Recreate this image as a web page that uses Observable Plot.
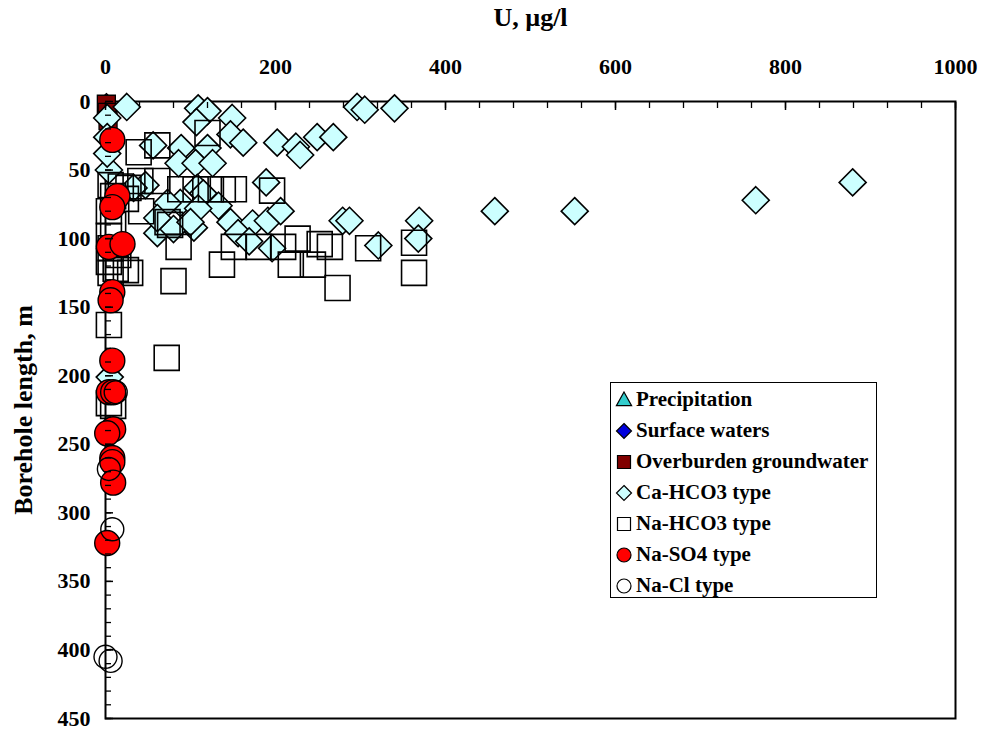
<!DOCTYPE html>
<html><head><meta charset="utf-8">
<script src="https://cdn.jsdelivr.net/npm/d3@7"></script>
<script src="https://cdn.jsdelivr.net/npm/@observablehq/plot@0.6"></script>
<style>
body{margin:0;background:#fff;}
#wrap{position:relative;width:983px;height:729px;overflow:hidden;}
#legend{position:absolute;left:610px;top:382px;width:267px;height:216px;border:1.5px solid #000;background:#fff;
  font:bold 21px 'Liberation Serif','Times New Roman',serif;box-sizing:border-box;color:#000;}
.row{position:absolute;left:4px;height:31px;display:flex;align-items:center;white-space:nowrap;}
.row svg{margin-right:3px;}
</style></head><body>
<div id="wrap"><div id="chart"></div><div id="legend"></div></div>
<script>
// ---- data: [U µg/l, borehole length m] ----
const precipitation = [];
const surfaceWaters = [[1,0]];
const overburden = [[1,2],[2,8],[3,14]];
const caHCO3 = [
 [25,4],[109,5],[120,7],[296,4],[305,6],[340,5],[149,12],[107,15],[147,24],[162,30],[202,30],[224,33],
 [229,39],[249,26],[268,26],[89,34],[120,34],[56,32],[86,45],[106,45],[126,45],[4,50],[47,61],[189,59],
 [108,63],[115,67],[88,74],[133,76],[109,78],[147,88],[173,89],[191,87],[206,80],[156,96],[104,92],[61,96],
 [80,93],[100,88],[196,107],[169,102],[279,87],[287,87],[321,105],[369,87],[368,100],[458,80],[552,80],
 [765,72],[879,59],[2,12],[2,26],[2,38],[5,201],[33,63],[73,74],[61,85]
];
const naHCO3 = [
 [120,23],[39,37],[61,32],[42,80],[88,64],[106,64],[124,64],[138,64],[151,64],[196,65],[73,88],[86,106],
 [151,106],[180,106],[209,106],[226,100],[252,104],[264,106],[309,107],[363,103],[137,119],[218,119],
 [244,119],[363,125],[273,136],[80,131],[72,187],[4,163],[4,220],[9,222],[6,61],[18,62],[27,63],[9,69],
 [24,71],[4,80],[9,90],[4,98],[6,107],[15,112],[4,117],[12,122],[24,123],[29,125],[6,125],[41,58],[61,58],[76,90]
];
const naSO4 = [
 [8,28],[14,69],[8,77],[4,106],[20,104],[8,139],[6,145],[8,189],[4,212],[9,212],[9,239],[2,242],
 [8,260],[8,263],[9,278],[2,322]
];
const naCl = [[12,212],[4,268],[8,312],[0,405],[6,408]];

const seriesNames = ["Precipitation","Surface waters","Overburden groundwater","Ca-HCO3 type","Na-HCO3 type","Na-SO4 type","Na-Cl type"];
const xMajor = [0,200,400,600,800,1000];
const xMinor = d3.range(0,1001,40);
const yMajor = [0,50,100,150,200,250,300,350,400,450];
const yMinor = d3.range(0,451,10);

// ---- symbols ----
const rad = s => Math.sqrt(s/Math.PI);
const diamondSym = {draw(c,s){const r=rad(s);c.moveTo(0,-r);c.lineTo(r,0);c.lineTo(0,r);c.lineTo(-r,0);c.closePath();}};
const squareSym = {draw(c,s){const r=rad(s);c.rect(-r,-r,2*r,2*r);}};
const triSym = {draw(c,s){const r=rad(s);c.moveTo(0,-r);c.lineTo(r*0.95,r*0.7);c.lineTo(-r*0.95,r*0.7);c.closePath();}};
const circleSym = {draw(c,s){const r=rad(s);c.moveTo(r,0);c.arc(0,0,r,0,2*Math.PI);c.closePath();}};

const styles = [
 {data:precipitation, symbol:triSym, r:12, fill:"#33cccc", sw:1.3, ls:[triSym,8,"#33cccc"]},
 {data:surfaceWaters, symbol:diamondSym, r:8, fill:"#0000dd", sw:1.2, ls:[diamondSym,7.5,"#0000dd"]},
 {data:overburden, symbol:squareSym, r:9, fill:"#800000", sw:1.3, ls:[squareSym,6.5,"#800000"]},
 {data:caHCO3, symbol:diamondSym, r:13.5, fill:"#ccffff", sw:1.6, ls:[diamondSym,7.5,"#ccffff"]},
 {data:naHCO3, symbol:squareSym, r:12.5, fill:"none", sw:1.6, ls:[squareSym,6.5,"#ffffff"]},
 {data:naSO4, symbol:circleSym, r:12.5, fill:"#ff0000", sw:1.4, ls:[circleSym,7,"#ff0000"]},
 {data:naCl, symbol:circleSym, r:11.5, fill:"none", sw:1.4, ls:[circleSym,7,"#ffffff"]}
];

const font = "'Liberation Serif','Times New Roman',serif";
const chart = Plot.plot({
  width: 983, height: 729,
  marginLeft: 105, marginRight: 28, marginTop: 101, marginBottom: 11,
  style: {fontFamily: font, fontSize: "22px", fontWeight: "bold", color: "#000", background: "#fff", overflow: "visible"},
  x: {domain: [0,1000]},
  y: {domain: [0,450], reverse: true},
  marks: [
    Plot.frame({stroke: "#000", strokeWidth: 2}),
    ...styles.map(s => Plot.dot(s.data, {x: d=>d[0], y: d=>d[1], symbol: s.symbol, r: s.r, fill: s.fill, stroke: "#000", strokeWidth: s.sw})),
    Plot.axisX(xMajor, {anchor: "top", tickSize: 0, tickPadding: 28, tickFormat: d=>String(d),
      label: "U, µg/l", labelAnchor: "center", labelOffset: 94, labelArrow: "none", fontSize: 22, fontWeight: "bold"}),
    Plot.axisX(xMajor, {anchor: "top", tickSize: 8, dy: 8, tickFormat: () => "", label: null, strokeWidth: 1.5}),
    Plot.axisX(xMinor, {anchor: "top", tickSize: 6, dy: 6, tickFormat: () => "", label: null, strokeWidth: 1.3}),
    Plot.axisY(yMajor, {anchor: "left", tickSize: 0, tickPadding: 15, tickFormat: d=>String(d),
      label: "Borehole length, m", labelAnchor: "center", labelOffset: 92, labelArrow: "none", fontSize: 22, fontWeight: "bold"}),
    Plot.axisY(yMajor, {anchor: "left", tickSize: 8, dx: 8, tickFormat: () => "", label: null, strokeWidth: 1.5}),
    Plot.axisY(yMinor, {anchor: "left", tickSize: 6, dx: 6, tickFormat: () => "", label: null, strokeWidth: 1.3})
  ]
});
document.getElementById("chart").appendChild(chart);
// larger axis titles
d3.select(chart).selectAll("g[aria-label='x-axis label'] text, g[aria-label='y-axis label'] text").style("font-size","26px");

// ---- legend ----
const leg = d3.select("#legend");
seriesNames.forEach((name,i) => {
  const [sym, r, fill] = styles[i].ls;
  const row = leg.append("div").attr("class","row").style("top", (1 + i*31) + "px");
  const svg = row.append("svg").attr("width",18).attr("height",18);
  svg.append("path").attr("transform","translate(9,9)")
     .attr("d", d3.symbol(sym, r*r*Math.PI)())
     .attr("fill", fill).attr("stroke","#000").attr("stroke-width",1.2);
  row.append("span").text(name);
});
</script></body></html>
